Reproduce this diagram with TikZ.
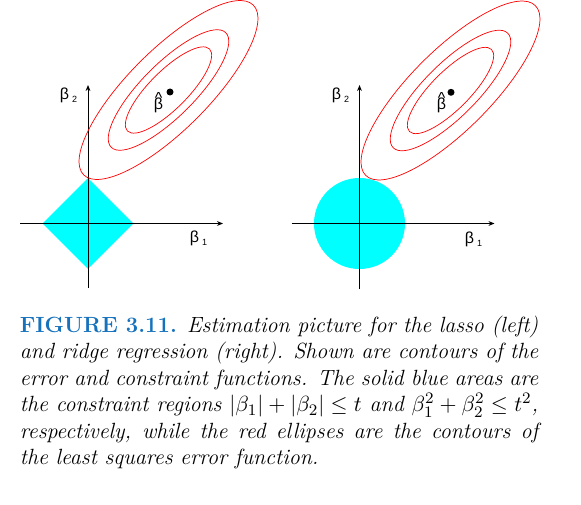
\documentclass[tikz,border=0pt]{standalone}
\usepackage{fontspec}
\usepackage{tikz}
\usetikzlibrary{positioning, shapes.geometric, arrows.meta}
\newfontfamily\greekfont{Liberation Sans}
\definecolor{figblue}{RGB}{22,114,188}
\definecolor{aqua}{RGB}{0,255,255}
\newcommand{\bsub}[1]{\kern1.5pt\raisebox{-1.5pt}{\fontsize{4.5}{5}\selectfont #1}}
\newcommand{\capline}[1]{\makebox[259.2pt][s]{#1}}

\begin{document}
\begin{tikzpicture}[x=0.5pt, y=0.5pt,
            axis/.style={line width=0.5pt, -{Stealth[length=3pt, width=2.4pt]}},
            region/.style={fill=aqua, draw=none, inner sep=0pt},
            contour/.style={draw=red, line width=0.35pt},
            lbl/.style={font=\greekfont\fontsize{8}{9}\selectfont, inner sep=0pt},
            estimate/.style={circle, fill=black, inner sep=0pt, minimum size=3.5pt},
            caption/.style={align=left, inner sep=0pt, font=\fontsize{11}{13.25}\selectfont\itshape}
        ]
            \useasboundingbox (0,0) rectangle (581,504);

            % lasso
            \coordinate (oL) at (88,280.5);
            \coordinate (cL) at (168.5,414);
            \coordinate (xL0) at (20,280.5);
            \coordinate (xL1) at (223,280.5);
            \coordinate (yL0) at (88,216);
            \coordinate (yL1) at (88,419);
            \node[region, diamond, aspect=1, minimum width=45.5pt, minimum height=45.5pt] (lasso) at (oL) {};
            \draw[axis] (xL0) -- (xL1);
            \draw[axis] (yL0) -- (yL1);
            \foreach \a/\b in {58/19, 81/26.5, 120/40}
                \draw[contour, rotate around={45:(cL)}] (cL) ellipse [x radius=\a, y radius=\b];
            \node[estimate] (dotL) at (170,412) {};
            \node[lbl, align=center] (bhatL) at (158.5,401.5) {\^{}\\[-6pt]β};
            \node[lbl] (b2L) at (68.5,409) {β\bsub{2}};
            \node[lbl] (b1L) at (198.5,265.5) {β\bsub{1}};

            % ridge
            \coordinate (oR) at (359.5,280.5);
            \coordinate (cR) at (450.5,413.5);
            \coordinate (xR0) at (291.5,280.5);
            \coordinate (xR1) at (494.5,280.5);
            \coordinate (yR0) at (359.5,215);
            \coordinate (yR1) at (359.5,419);
            \node[region, circle, minimum size=45.5pt] (ridge) at (oR) {};
            \draw[axis] (xR0) -- (xR1);
            \draw[axis] (yR0) -- (yR1);
            \foreach \a/\b in {58/19, 81/26.5, 120/40}
                \draw[contour, rotate around={45:(cR)}] (cR) ellipse [x radius=\a, y radius=\b];
            \node[estimate] (dotR) at (451,411.7) {};
            \node[lbl, align=center] (bhatR) at (441.5,401) {\^{}\\[-6pt]β};
            \node[lbl] (b2R) at (340.5,409) {β\bsub{2}};
            \node[lbl] (b1R) at (473.5,265) {β\bsub{1}};

            \node[caption, anchor=north west] (cap) at (19.5,188.5) {%
            \capline{{\upshape\bfseries\color{figblue}FIGURE 3.11.} Estimation picture for the lasso (left)}\\
            \capline{and ridge regression (right). Shown are contours of the}\\
            \capline{error and constraint functions. The solid blue areas are}\\
            \capline{the constraint regions $|\beta_1|+|\beta_2|\le t$ and $\beta_1^2+\beta_2^2\le t^2$,}\\
            \capline{respectively, while the red ellipses are the contours of}\\
            the least squares error function.};

        \end{tikzpicture}
\end{document}
